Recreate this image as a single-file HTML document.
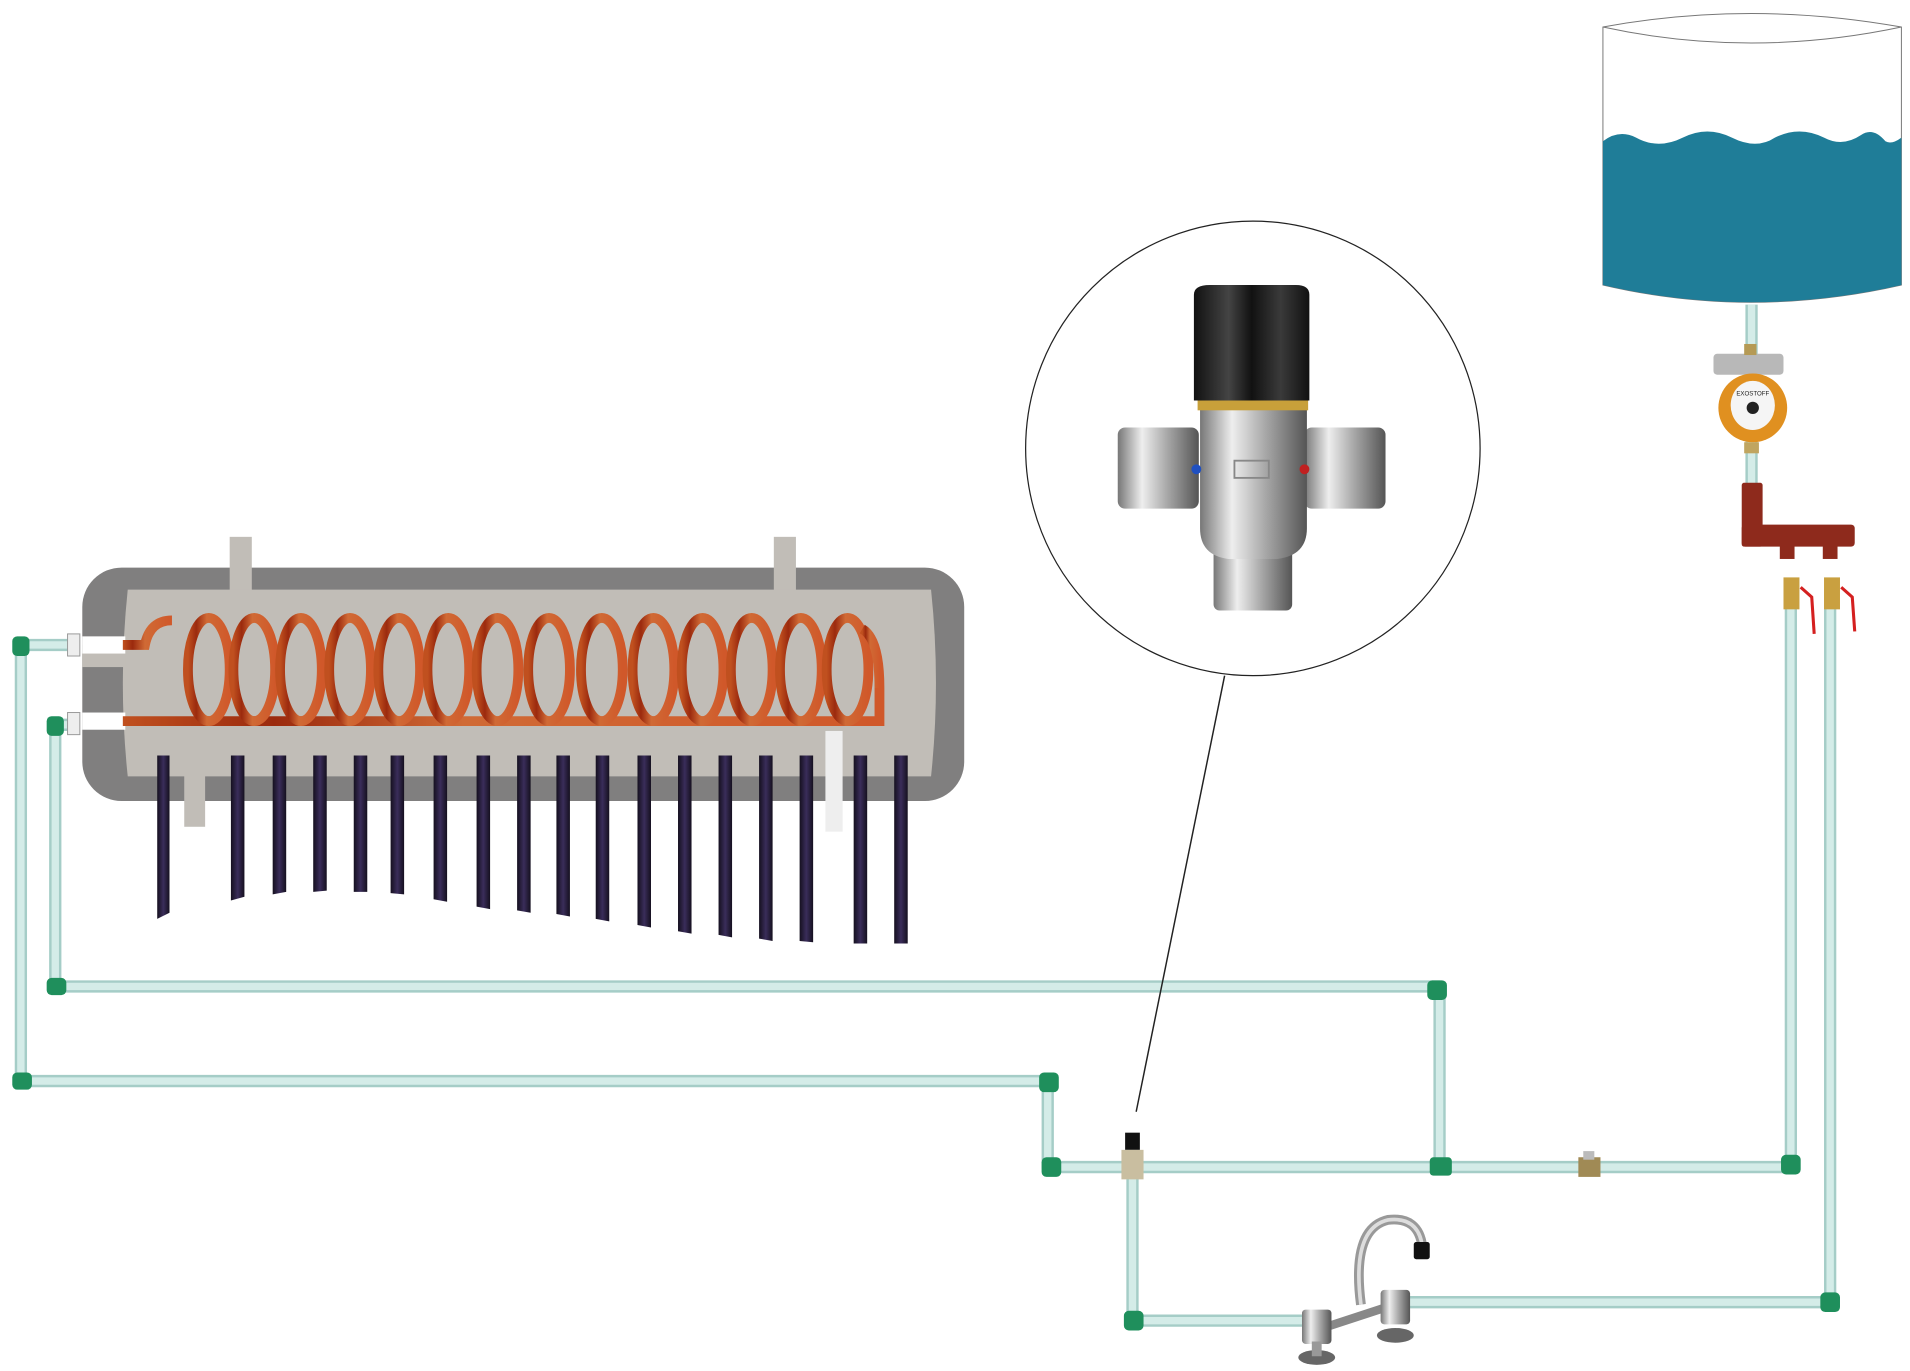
<!DOCTYPE html>
<html><head><meta charset="utf-8"><style>html,body{margin:0;padding:0;background:#fff;width:1910px;height:1371px;overflow:hidden}svg{display:block}</style></head>
<body>
<svg width="1910" height="1371" viewBox="0 0 1555 1116" preserveAspectRatio="none" xmlns="http://www.w3.org/2000/svg">
<defs>
<linearGradient id="cu" x1="0" x2="1" y1="0" y2="0">
<stop offset="0" stop-color="#c0501f"/><stop offset="0.2" stop-color="#9b2a0e"/><stop offset="0.45" stop-color="#d06a35"/><stop offset="1" stop-color="#d0582a"/></linearGradient>
<linearGradient id="tube" x1="0" x2="1"><stop offset="0" stop-color="#15101f"/><stop offset="0.5" stop-color="#3a2d5a"/><stop offset="1" stop-color="#15101f"/></linearGradient>
<linearGradient id="chrome" x1="0" x2="1"><stop offset="0" stop-color="#777"/><stop offset="0.3" stop-color="#eee"/><stop offset="0.6" stop-color="#aaa"/><stop offset="1" stop-color="#555"/></linearGradient>
<linearGradient id="knob" x1="0" x2="1"><stop offset="0" stop-color="#111"/><stop offset="0.3" stop-color="#444"/><stop offset="0.5" stop-color="#111"/><stop offset="0.75" stop-color="#3a3a3a"/><stop offset="1" stop-color="#111"/></linearGradient>
</defs>

<!-- solar tank -->
<rect x="67" y="462" width="718" height="190" rx="32" fill="#807f7f"/>
<rect x="187" y="437" width="18" height="45" fill="#c1bdb7"/>
<rect x="630" y="437" width="18" height="45" fill="#c1bdb7"/>
<path d="M104 480 L758 480 Q766 556 758 632 L104 632 Q96 556 104 480 Z" fill="#c1bdb7"/>
<rect x="67" y="525" width="35" height="18" fill="#c1bdb7"/>
<rect x="150" y="630" width="17" height="43" fill="#c1bdb7"/>
<rect x="672" y="595" width="14" height="82" fill="#eeeeee"/>
<rect x="67" y="518" width="35" height="14" fill="#fff"/>
<rect x="67" y="580" width="35" height="14" fill="#fff"/>
<!-- coil -->
<g fill="none" stroke="url(#cu)" stroke-width="8">
<path d="M100 525 L118 525 Q122 505 140 505"/>
<path d="M100 587 L716 587 L716 560"/>
<g id="loops">
<ellipse cx="170" cy="545" rx="17" ry="42"/><ellipse cx="207" cy="545" rx="17" ry="42"/><ellipse cx="245" cy="545" rx="17" ry="42"/><ellipse cx="285" cy="545" rx="17" ry="42"/><ellipse cx="325" cy="545" rx="17" ry="42"/><ellipse cx="365" cy="545" rx="17" ry="42"/><ellipse cx="405" cy="545" rx="17" ry="42"/><ellipse cx="447" cy="545" rx="17" ry="42"/><ellipse cx="490" cy="545" rx="17" ry="42"/><ellipse cx="532" cy="545" rx="17" ry="42"/><ellipse cx="572" cy="545" rx="17" ry="42"/><ellipse cx="612" cy="545" rx="17" ry="42"/><ellipse cx="652" cy="545" rx="17" ry="42"/><ellipse cx="690" cy="545" rx="17" ry="42"/>
</g>
<path d="M702 512 Q716 520 716 560"/>
</g>
<!-- tubes -->
<g fill="url(#tube)">
<path d="M128 615h10v128l-10 5z"/><path d="M188 615h11v115l-11 3z"/><path d="M222 615h11v111l-11 2z"/><path d="M255 615h11v110l-11 1z"/><path d="M288 615h11v111l-11 0z"/><path d="M318 615h11v113l-11 -1z"/><path d="M353 615h11v119l-11 -2z"/><path d="M388 615h11v125l-11 -2z"/><path d="M421 615h11v128l-11 -2z"/><path d="M453 615h11v131l-11 -2z"/><path d="M485 615h11v135l-11 -2z"/><path d="M519 615h11v140l-11 -2z"/><path d="M552 615h11v145l-11 -2z"/><path d="M585 615h11v148l-11 -2z"/><path d="M618 615h11v151l-11 -2z"/><path d="M651 615h11v152l-11 -1z"/><path d="M695 615h11v153h-11z"/><path d="M728 615h11v153h-11z"/>
</g>

<!-- pipes -->
<g fill="none" stroke="#a5cdc7" stroke-width="10" stroke-linejoin="round">
<path d="M55 525 H17 V880 H853 V950 H1458 V480"/>
<path d="M60 590 H45 V803 H1172 V950"/>
<path d="M922 950 V1075 H1060"/>
<path d="M1140 1060 H1490 V480"/>
<path d="M1426 248 V420"/>
</g>
<g fill="none" stroke="#d4ece8" stroke-width="6" stroke-linejoin="round">
<path d="M55 525 H17 V880 H853 V950 H1458 V480"/>
<path d="M60 590 H45 V803 H1172 V950"/>
<path d="M922 950 V1075 H1060"/>
<path d="M1140 1060 H1490 V480"/>
<path d="M1426 248 V420"/>
</g>
<!-- fittings -->
<g fill="#1f8f5c">
<rect x="10" y="518" width="14" height="16" rx="4"/><rect x="38" y="583" width="14" height="16" rx="4"/>
<rect x="38" y="796" width="16" height="14" rx="4"/><rect x="10" y="873" width="16" height="14" rx="4"/>
<rect x="1162" y="798" width="16" height="16" rx="4"/><rect x="846" y="873" width="16" height="16" rx="4"/>
<rect x="848" y="942" width="16" height="16" rx="4"/><rect x="1164" y="942" width="18" height="15" rx="3"/>
<rect x="1450" y="940" width="16" height="16" rx="4"/><rect x="915" y="1067" width="16" height="16" rx="4"/>
<rect x="1482" y="1052" width="16" height="16" rx="4"/>
</g>
<g fill="#eee" stroke="#999" stroke-width="0.8"><rect x="55" y="516" width="10" height="18"/><rect x="55" y="580" width="10" height="18"/></g>
<!-- check valve -->
<rect x="1285" y="942" width="18" height="16" fill="#a08a55"/><rect x="1289" y="937" width="9" height="7" fill="#bbb"/>
<!-- small mixer -->
<rect x="916" y="922" width="12" height="14" fill="#111"/><rect x="913" y="936" width="18" height="24" fill="#c9bea0"/>

<!-- zoom circle -->
<ellipse cx="1020" cy="365" rx="185" ry="185" fill="#fff" stroke="#222" stroke-width="1"/>
<line x1="997" y1="550" x2="925" y2="905" stroke="#222" stroke-width="1.2"/>
<rect x="910" y="348" width="66" height="66" rx="6" fill="url(#chrome)"/>
<rect x="1062" y="348" width="66" height="66" rx="6" fill="url(#chrome)"/>
<rect x="988" y="445" width="64" height="52" rx="5" fill="url(#chrome)"/>
<path d="M977 333 H1064 V430 Q1064 452 1040 455 H1000 Q977 452 977 430 Z" fill="url(#chrome)"/>
<rect x="975" y="324" width="90" height="10" fill="#c8a03a"/>
<path d="M972 240 Q972 232 985 232 H1055 Q1066 232 1066 240 V326 H972 Z" fill="url(#knob)"/>
<circle cx="974" cy="382" r="4" fill="#2050c0"/><circle cx="1062" cy="382" r="4" fill="#c02020"/>
<rect x="1005" y="375" width="28" height="14" fill="none" stroke="#888" stroke-width="1.5"/>

<!-- water tank -->
<path d="M1305 22 Q1425 0 1548 22 V232 Q1425 260 1305 232 Z" fill="#fff" stroke="#777" stroke-width="0.8"/>
<path d="M1305 22 Q1425 48 1548 22" fill="none" stroke="#777" stroke-width="0.8"/>
<path d="M1305 115 Q1318 105 1332 112 Q1350 122 1370 112 Q1390 102 1410 112 Q1430 122 1445 112 Q1465 102 1485 112 Q1500 120 1515 110 Q1525 103 1535 115 Q1540 118 1548 112 V232 Q1425 260 1305 232 Z" fill="#1f7d98"/>
<!-- pump -->
<rect x="1395" y="288" width="57" height="17" rx="3" fill="#b8b8b8"/>
<rect x="1420" y="280" width="10" height="9" fill="#b59a55"/>
<ellipse cx="1427" cy="332" rx="28" ry="28" fill="#e09020"/>
<ellipse cx="1427" cy="330" rx="18" ry="20" fill="#f5f5f5"/>
<text x="1427" y="322" font-family="Liberation Sans, sans-serif" font-size="5" text-anchor="middle" fill="#222">EXOSTOFF</text>
<circle cx="1427" cy="332" r="5" fill="#222"/>
<rect x="1420" y="360" width="12" height="9" fill="#c0a560"/>
<!-- manifold -->
<g fill="#8e2a1c">
<rect x="1418" y="393" width="17" height="52" rx="2"/>
<rect x="1418" y="427" width="92" height="18" rx="3"/>
<rect x="1449" y="440" width="12" height="15"/><rect x="1484" y="440" width="12" height="15"/>
</g>
<g fill="#c9a040"><rect x="1452" y="470" width="13" height="26"/><rect x="1485" y="470" width="13" height="26"/></g>
<g stroke="#d42020" stroke-width="2.5" fill="none"><path d="M1466 478 L1475 486 L1477 516"/><path d="M1499 478 L1508 486 L1510 514"/></g>

<!-- faucet -->
<path d="M1108 1062 Q1100 1000 1130 993 Q1155 990 1158 1015" fill="none" stroke="#999" stroke-width="8"/>
<path d="M1108 1062 Q1100 1000 1130 993 Q1155 990 1158 1015" fill="none" stroke="#ddd" stroke-width="3"/>
<rect x="1151" y="1011" width="13" height="14" rx="2" fill="#111"/>
<path d="M1080 1080 L1135 1062" stroke="#888" stroke-width="7"/>
<rect x="1060" y="1066" width="24" height="28" rx="3" fill="url(#chrome)"/>
<ellipse cx="1072" cy="1105" rx="15" ry="6" fill="#666"/><rect x="1068" y="1092" width="8" height="12" fill="#999"/>
<rect x="1124" y="1050" width="24" height="28" rx="3" fill="url(#chrome)"/>
<ellipse cx="1136" cy="1087" rx="15" ry="6" fill="#666"/>
</svg>
</body></html>
